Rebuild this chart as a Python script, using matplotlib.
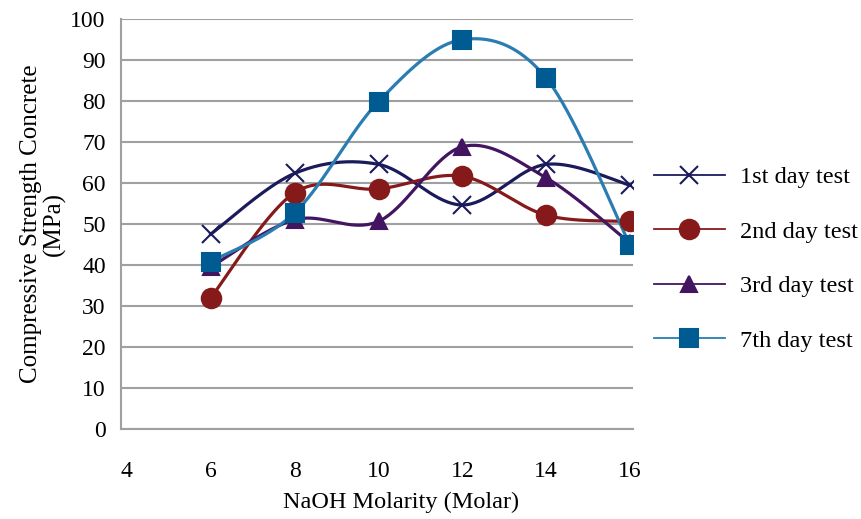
import numpy as np
import matplotlib.pyplot as plt

plt.rcParams['font.family'] = ['Liberation Serif', 'DejaVu Serif']

# NaOH molarity and compressive strength (MPa)
molarity = [6, 8, 10, 12, 14, 16]
day1 = [47.5, 62.3, 64.5, 54.6, 64.5, 59.4]
day2 = [32.0, 57.6, 58.5, 61.6, 52.1, 50.6]
day3 = [39.5, 51.0, 50.6, 68.8, 61.2, 45.3]
day7 = [40.8, 52.7, 79.8, 94.9, 85.5, 44.8]

labels = ["1st day test", "2nd day test", "3rd day test", "7th day test"]
xticks = [4, 6, 8, 10, 12, 14, 16]


def smooth(x, y, n=40):
    # excel-like smoothed line: bezier segments with catmull-rom control points
    x = np.asarray(x, float)
    y = np.asarray(y, float)
    px = np.concatenate([[x[0]], x, [x[-1]]])
    py = np.concatenate([[y[0]], y, [y[-1]]])
    t = np.linspace(0, 1, n)[:, None]
    xs, ys = [], []
    for i in range(len(x) - 1):
        p0 = np.array([px[i + 1], py[i + 1]])
        p3 = np.array([px[i + 2], py[i + 2]])
        p1 = p0 + (np.array([px[i + 2], py[i + 2]]) - np.array([px[i], py[i]])) / 6
        p2 = p3 - (np.array([px[i + 3], py[i + 3]]) - np.array([px[i + 1], py[i + 1]])) / 6
        b = (1 - t) ** 3 * p0 + 3 * (1 - t) ** 2 * t * p1 + 3 * (1 - t) * t ** 2 * p2 + t ** 3 * p3
        xs.append(b[:, 0])
        ys.append(b[:, 1])
    return np.concatenate(xs), np.concatenate(ys)


fig = plt.figure(figsize=(8.62, 5.19), dpi=100)
ax = fig.add_axes([0.1404, 0.1734, 0.594, 0.7906])

series = [day1, day2, day3, day7]
line_cols = ["#1b1b5c", "#861a1a", "#43145f", "#2a7db3"]
mark_cols = ["#1b1b5c", "#861a1a", "#43145f", "#005b93"]
markers = ["x", "o", "^", "s"]
msizes = [13, 14, 12, 13]

for ys, lab, lc, mc, mk, ms in zip(series, labels, line_cols, mark_cols, markers, msizes):
    sx, sy = smooth(molarity, ys)
    ax.plot(sx, sy, color=lc, lw=2.3, zorder=3)
    ax.plot(molarity, ys, linestyle="none", marker=mk, ms=ms, color=mc,
            mec=mc, mew=1.5, zorder=4)
    # legend proxy
    ax.plot([], [], color=lc, lw=1.3, marker=mk, ms=ms, mfc=mc, mec=mc, mew=1.5, label=lab)

ax.set_xlim(3.86, 16.07)
ax.set_ylim(0, 100)
ax.set_xticks(xticks)
ax.set_yticks(range(0, 101, 10))
ax.yaxis.grid(True, color="#a0a0a0", lw=1.5)
ax.set_axisbelow(True)
for s in ["top", "right"]:
    ax.spines[s].set_visible(False)
for s in ["left", "bottom"]:
    ax.spines[s].set_color("#a0a0a0")
    ax.spines[s].set_linewidth(1.5)
ax.tick_params(axis="both", length=0, labelsize=17)
ax.tick_params(axis="x", pad=23)
ax.tick_params(axis="y", pad=11)

ax.set_xlabel("NaOH Molarity (Molar)", fontsize=17.5, labelpad=5)
ax.xaxis.set_label_coords(0.547, -0.153)
ax.set_ylabel("Compressive Strength Concrete\n(MPa)", fontsize=18, labelpad=3,
              linespacing=1.05)

fig.legend(loc="upper left", bbox_to_anchor=(0.7587, 0.680), frameon=False,
           fontsize=17.5, handlelength=2.92, handletextpad=0.62, labelspacing=1.34,
           borderpad=0, borderaxespad=0)

fig.savefig("out.png", dpi=100)
